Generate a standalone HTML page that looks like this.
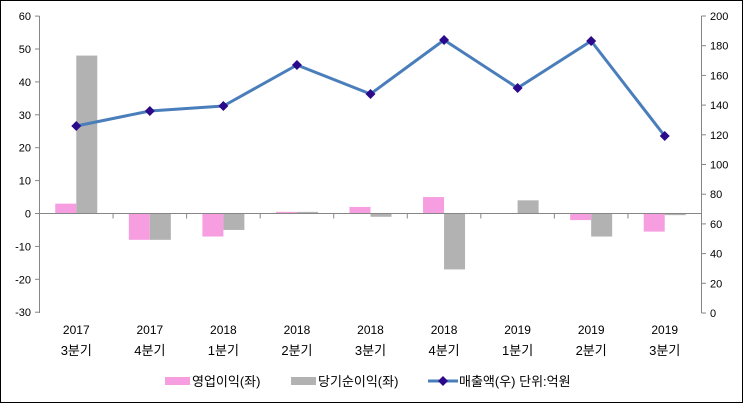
<!DOCTYPE html>
<html><head><meta charset="utf-8"><style>
html,body{margin:0;padding:0;background:#fff}
svg{display:block}
text{font-family:"Liberation Sans","Noto Sans CJK KR",sans-serif;font-size:11px;fill:#000}
.q{font-size:13px}
.y{font-size:12px}
.lg{font-size:13px}
</style></head><body>
<svg width="743" height="403" viewBox="0 0 743 403" xmlns="http://www.w3.org/2000/svg">
<rect x="0.5" y="0.5" width="742" height="402" fill="#fff" stroke="#000"/>
<g id="bars"></g>
<g stroke="#868686" stroke-width="1" fill="none">
<line x1="39.5" y1="16" x2="39.5" y2="313"/>
<line x1="701.5" y1="16" x2="701.5" y2="313"/>
<line x1="39.5" y1="213.5" x2="701.5" y2="213.5"/>
</g>
<g id="ticks" stroke="#868686"></g>
<g id="labels"></g>
<polyline id="ln" fill="none" stroke="#4a7ebb" stroke-width="3" stroke-linejoin="round"/>
<g id="mk"></g>
<rect x="165" y="377" width="25" height="8" fill="#f79ee0"/>
<text class="lg" x="192" y="386">영업이익(좌)</text>
<rect x="291" y="377" width="25" height="8" fill="#b2b2b2"/>
<text class="lg" x="318" y="386">당기순이익(좌)</text>
<line x1="428" y1="381" x2="458" y2="381" stroke="#4a7ebb" stroke-width="3"/>
<path d="M443 376 L448 381 L443 386 L438 381Z" fill="#2a0a8a"/>
<text class="lg" x="459" y="386">매출액(우)  단위:억원</text>
<script>
var ns="http://www.w3.org/2000/svg";
function el(p,t,a,txt){var e=document.createElementNS(ns,t);for(var k in a)e.setAttribute(k,a[k]);if(txt!=null)e.textContent=txt;document.getElementById(p).appendChild(e);return e;}
var L=39.5,W=662/9,z=213.5,s=3.29;
var pink=[3,-8,-7,0.5,2,5,0,-2,-5.5],gray=[48,-8,-5,0.5,-1,-17,4,-7,-0.5];
var ly=[126,111,106,65,94,40,88,41,136];
var yr=["2017","2017","2018","2018","2018","2018","2019","2019","2019"],q=["3분기","4분기","1분기","2분기","3분기","4분기","1분기","2분기","3분기"];
var pts=[];
for(var i=0;i<9;i++){var c=L+W*(i+0.5);
function bar(v,x,col){var h=Math.abs(v)*s;el("bars","rect",{x:x,y:v>=0?z-h:z,width:21,height:h,fill:col});}
bar(pink[i],c-21,"#f79ee0");bar(gray[i],c,"#b2b2b2");
pts.push(c+","+ly[i]);
el("mk","path",{d:"M"+c+" "+(ly[i]-5)+" L"+(c+5)+" "+ly[i]+" L"+c+" "+(ly[i]+5)+" L"+(c-5)+" "+ly[i]+"Z",fill:"#2a0a8a"});
el("labels","text",{x:c,y:334,"text-anchor":"middle","class":"y"},yr[i]);
el("labels","text",{x:c,y:355,"text-anchor":"middle","class":"q"},q[i]);
if(i>0)el("ticks","line",{x1:L+W*i,y1:z,x2:L+W*i,y2:z+5});
}
document.getElementById("ln").setAttribute("points",pts.join(" "));
for(var v=60;v>=-30;v-=10){var y=z-v*s;el("ticks","line",{x1:35,y1:y,x2:39.5,y2:y});el("labels","text",{x:31,y:y+4,"text-anchor":"end"},v);}
for(var v=0;v<=200;v+=20){var y=313-v*1.485;el("ticks","line",{x1:701.5,y1:y,x2:706,y2:y});el("labels","text",{x:710,y:y+4},v);}
</script>
</svg>
</body></html>
